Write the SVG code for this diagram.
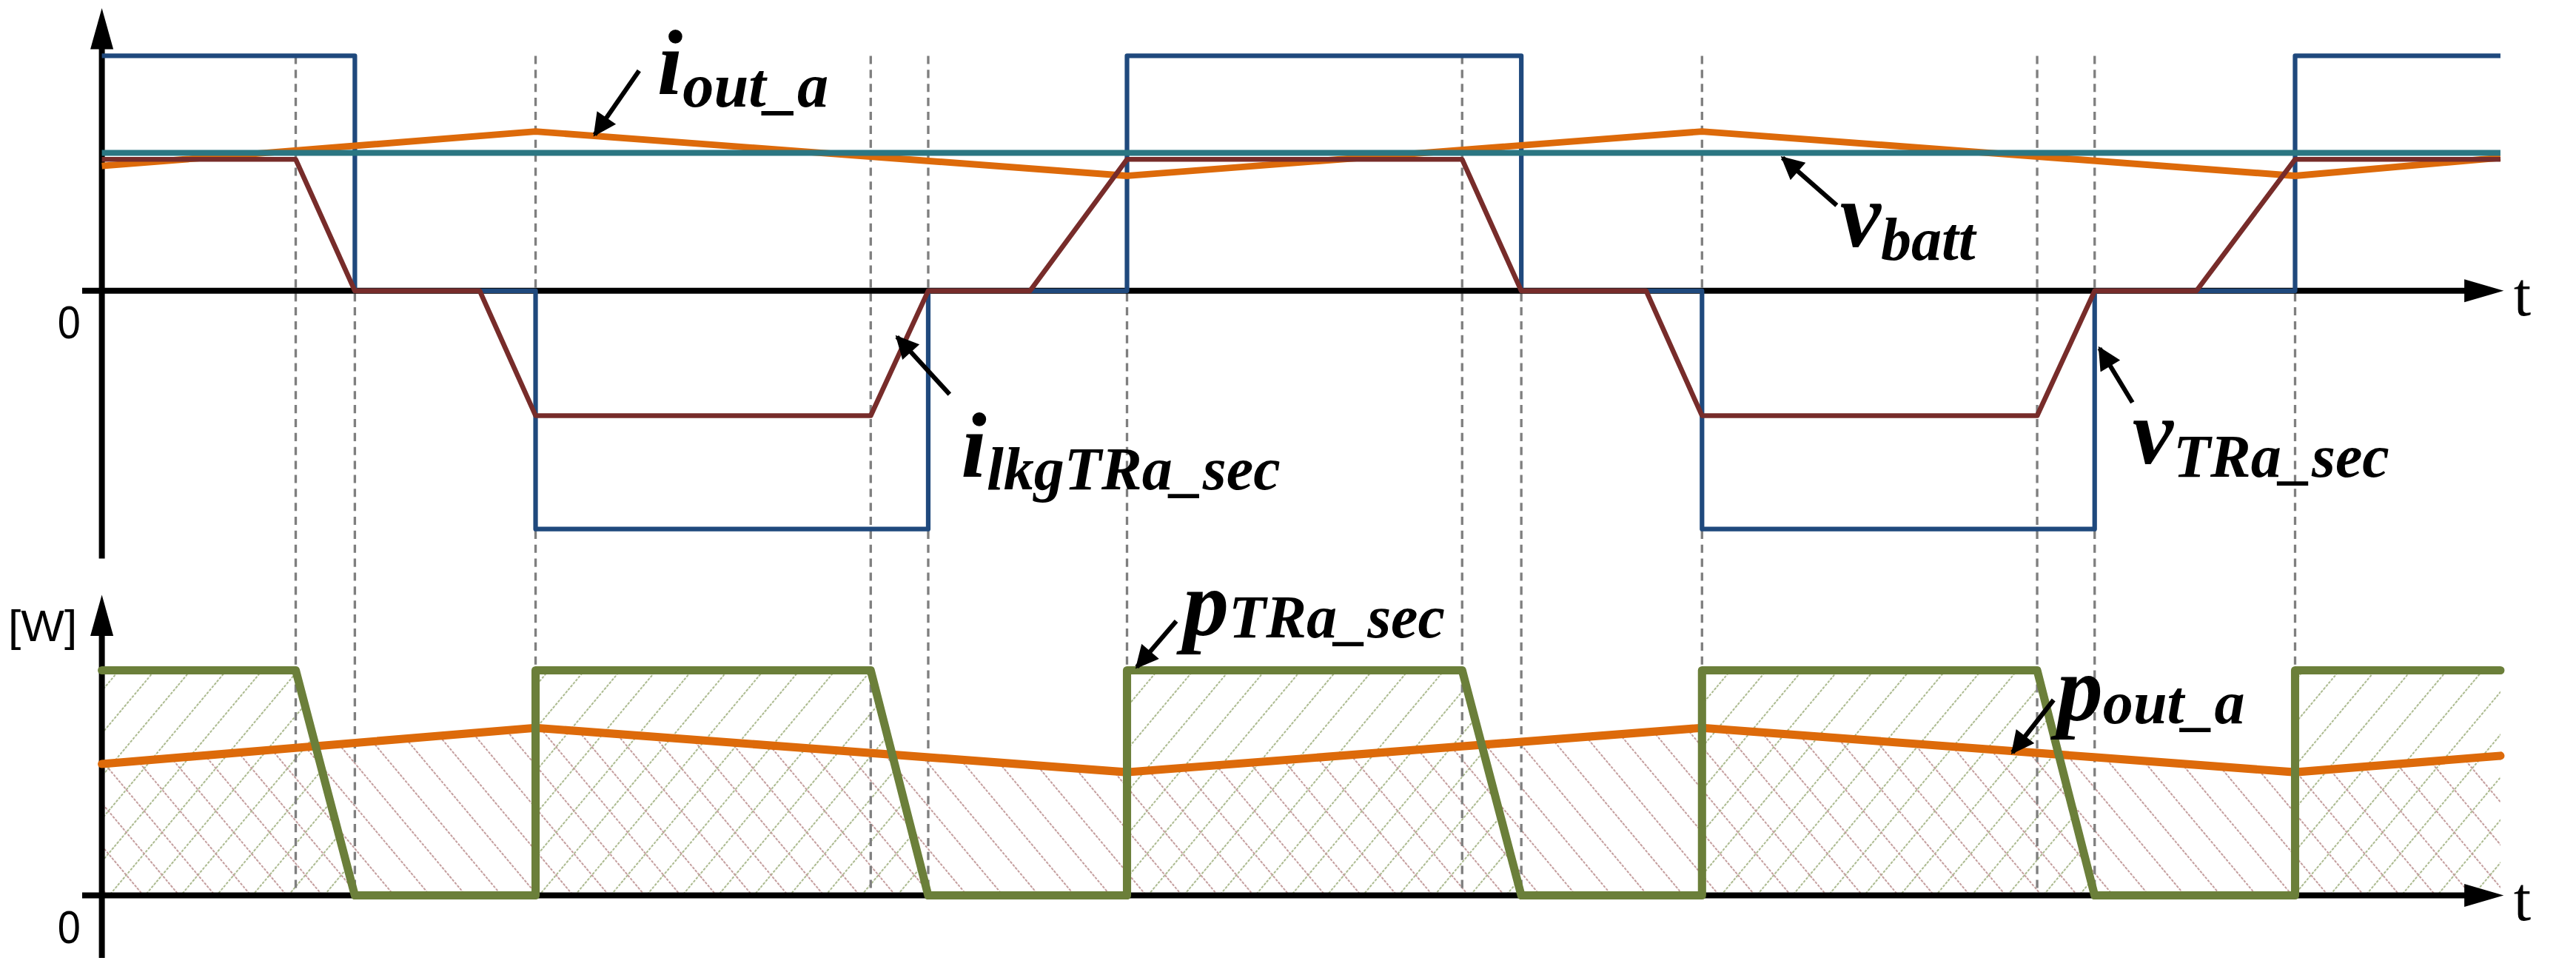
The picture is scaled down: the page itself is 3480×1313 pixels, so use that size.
<svg xmlns="http://www.w3.org/2000/svg" width="3480" height="1313" viewBox="0 0 3480 1313">
<defs>
<style>
.ax{stroke:#000;stroke-width:3.6;fill:none}
.dash{stroke:#7f7f7f;stroke-width:1.5;stroke-dasharray:5 3.5;fill:none}
.w{fill:none;stroke-linejoin:round}
.lbl{font-family:"Liberation Serif",serif;font-weight:bold;font-style:italic;fill:#000}
.num{font-family:"Liberation Sans",Arial,sans-serif;fill:#000}
.tt{font-family:"Liberation Serif",serif;fill:#000;font-size:38px}
.arr{stroke:#000;stroke-width:2.8;fill:none}
</style>
<pattern id="hg" patternUnits="userSpaceOnUse" width="16.7" height="16.7" patternTransform="rotate(40)">
<line x1="0" y1="0" x2="0" y2="16.7" stroke="#a9b88c" stroke-width="1.8" stroke-dasharray="1.6 0.8"/>
</pattern>
<pattern id="hb" patternUnits="userSpaceOnUse" width="16.7" height="16.7" patternTransform="rotate(-40)">
<line x1="0" y1="0" x2="0" y2="16.7" stroke="#c29a9a" stroke-width="1.8" stroke-dasharray="1.6 0.8"/>
</pattern>
<marker id="ah" viewBox="0 0 10 10" refX="9" refY="5" markerWidth="5.5" markerHeight="5" orient="auto"><path d="M0,0 L10,5 L0,10 z" fill="#000"/></marker>
</defs>
<rect width="3480" height="1313" fill="#fff"/>
<g transform="scale(2.2194)">
<g id="hatch">
<polygon fill="url(#hg)" points="62,408 180,408 216,545 62,545"/>
<polygon fill="url(#hg)" points="326,545 326,408 530,408 565,545"/>
<polygon fill="url(#hg)" points="686,545 686,408 890,408 926,545"/>
<polygon fill="url(#hg)" points="1036,545 1036,408 1240,408 1275,545"/>
<polygon fill="url(#hg)" points="1397,545 1397,408 1522,408 1522,545"/>
<polygon fill="url(#hb)" points="62,465 326,443 686,470 1036,443 1397,470 1522,460 1522,545 62,545"/>
</g>
<g id="gridlines">
<line class="dash" x1="180" y1="34" x2="180" y2="545"/>
<line class="dash" x1="216" y1="34" x2="216" y2="545"/>
<line class="dash" x1="326" y1="34" x2="326" y2="545"/>
<line class="dash" x1="530" y1="34" x2="530" y2="545"/>
<line class="dash" x1="565" y1="34" x2="565" y2="545"/>
<line class="dash" x1="686" y1="34" x2="686" y2="545"/>
<line class="dash" x1="890" y1="34" x2="890" y2="545"/>
<line class="dash" x1="926" y1="34" x2="926" y2="545"/>
<line class="dash" x1="1036" y1="34" x2="1036" y2="545"/>
<line class="dash" x1="1240" y1="34" x2="1240" y2="545"/>
<line class="dash" x1="1275" y1="34" x2="1275" y2="545"/>
<line class="dash" x1="1397" y1="34" x2="1397" y2="545"/>
</g>
<g id="axes">
<line class="ax" x1="62" y1="20" x2="62" y2="340"/>
<polygon points="62,5 55,30 69,30" fill="#000"/>
<line class="ax" x1="50" y1="177" x2="1508" y2="177"/>
<polygon points="1524,177 1500,170 1500,184" fill="#000"/>
<text class="tt" x="1530" y="192">t</text>
<text class="num" x="35" y="206" font-size="28" textLength="14" lengthAdjust="spacingAndGlyphs">0</text>
<line class="ax" x1="62" y1="378" x2="62" y2="583"/>
<polygon points="62,362 55,387 69,387" fill="#000"/>
<line class="ax" x1="50" y1="545" x2="1508" y2="545"/>
<polygon points="1524,545 1500,538 1500,552" fill="#000"/>
<text class="tt" x="1530" y="560">t</text>
<text class="num" x="35" y="574" font-size="28" textLength="14" lengthAdjust="spacingAndGlyphs">0</text>
<text class="num" x="5" y="390" font-size="27" textLength="42" lengthAdjust="spacingAndGlyphs">[W]</text>
</g>
<g id="waves">
<polyline class="w" stroke="#1f497d" stroke-width="2.8" points="62,34 216,34 216,177 326,177 326,322 565,322 565,177 686,177 686,34 926,34 926,177 1036,177 1036,322 1275,322 1275,177 1397,177 1397,34 1522,34"/>
<polyline class="w" stroke="#dd6a0a" stroke-width="4" points="62,101 326,80 686,107 1036,80 1397,107 1522,96"/>
<line stroke="#2b7682" stroke-width="3.6" x1="62" y1="93" x2="1522" y2="93"/>
<polyline class="w" stroke="#772c2a" stroke-width="3" points="62,97 180,97 216,177 292,177 326,253 530,253 565,177 627,177 686,97 890,97 926,177 1002,177 1036,253 1240,253 1275,177 1337,177 1397,97 1522,97"/>
<polyline class="w" stroke="#dd6a0a" stroke-width="5" stroke-linecap="round" points="62,465 326,443 686,470 1036,443 1397,470 1522,460"/>
<polyline class="w" stroke="#6b7f3a" stroke-width="5" stroke-linecap="round" points="62,408 180,408 216,545 326,545 326,408 530,408 565,545 686,545 686,408 890,408 926,545 1036,545 1036,408 1240,408 1275,545 1397,545 1397,408 1522,408"/>
</g>
<g id="labels">
<line class="arr" x1="389" y1="43" x2="362" y2="82" marker-end="url(#ah)"/>
<text class="lbl" x="400" y="57" font-size="56">i<tspan font-size="38" dy="8">out_a</tspan></text>
<line class="arr" x1="1118" y1="125" x2="1085" y2="96" marker-end="url(#ah)"/>
<text class="lbl" x="1120" y="150" font-size="56">v<tspan font-size="37" dy="8">batt</tspan></text>
<line class="arr" x1="578" y1="240" x2="546" y2="205" marker-end="url(#ah)"/>
<text class="lbl" x="585" y="290" font-size="56">i<tspan font-size="37" dy="8">lkgTRa_sec</tspan></text>
<line class="arr" x1="1298" y1="245" x2="1278" y2="212" marker-end="url(#ah)"/>
<text class="lbl" x="1298" y="282" font-size="56">v<tspan font-size="37" dy="8">TRa_sec</tspan></text>
<line class="arr" x1="716" y1="378" x2="692" y2="406" marker-end="url(#ah)"/>
<text class="lbl" x="720" y="386" font-size="56">p<tspan font-size="37" dy="2">TRa_sec</tspan></text>
<line class="arr" x1="1250" y1="426" x2="1225" y2="458" marker-end="url(#ah)"/>
<text class="lbl" x="1252" y="438" font-size="56">p<tspan font-size="37" dy="2">out_a</tspan></text>
</g>
</g>
</svg>
